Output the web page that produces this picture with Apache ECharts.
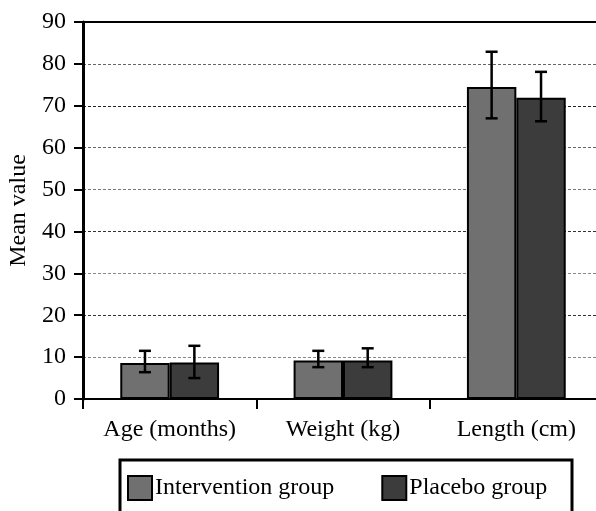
<!DOCTYPE html>
<html>
<head>
<meta charset="utf-8">
<script src="https://cdn.jsdelivr.net/npm/echarts@6/dist/echarts.min.js"></script>
<style>
  html, body { margin: 0; padding: 0; background: #fff; }
  #chart { width: 596px; height: 511px; }
</style>
</head>
<body>
<div id="chart"></div>
<script>
// data
const categories = ['Age (months)', 'Weight (kg)', 'Length (cm)']
const interventionMean = [8.6, 9.2, 74.5]
const placeboMean = [8.7, 9.2, 71.9]
const interventionLow = [6.4, 7.6, 67.0]
const interventionHigh = [11.5, 11.5, 82.9]
const placeboLow = [5.0, 7.6, 66.3]
const placeboHigh = [12.7, 12.1, 78.1]
const yTicks = { min: 0, max: 90, interval: 10 }

const FONT = '"Liberation Serif", "DejaVu Serif", serif'
const FS = 24
const GAP = 0.43 // barCategoryGap as fraction

// error bar drawn at the centre of one bar of the pair (side -1 / +1)
function errorBars(side) {
    return function (params, api) {
        const band = api.size([1, 0])[0]
        const off = side * band * (1 - GAP) / 4
        const top = api.coord([api.value(0), api.value(2)])
        const bot = api.coord([api.value(0), api.value(1)])
        const x = top[0] + off
        const cap = 6
        const style = { stroke: '#000', lineWidth: 2.5 }
        return {
            type: 'group',
            children: [
                { type: 'line', shape: { x1: x, y1: top[1], x2: x, y2: bot[1] }, style },
                { type: 'line', shape: { x1: x - cap, y1: top[1], x2: x + cap, y2: top[1] }, style },
                { type: 'line', shape: { x1: x - cap, y1: bot[1], x2: x + cap, y2: bot[1] }, style },
            ],
        }
    }
}

const chart = echarts.init(document.getElementById('chart'))
chart.setOption({
    animation: false,
    textStyle: { fontFamily: FONT, color: '#000' },
    grid: {
        left: 83, top: 22, bottom: 112, right: -7,
        outerBoundsMode: 'none',
        containLabel: false,
        show: true, borderColor: '#000', borderWidth: 2,
    },
    legend: {
        data: ['Intervention group', 'Placebo group'],
        left: 127, top: 475,
        padding: 0,
        itemWidth: 24, itemHeight: 24, itemGap: 47,
        icon: 'rect',
        textStyle: { fontFamily: FONT, fontSize: FS, color: '#000', padding: [0, 0, 0, -2] },
    },
    graphic: [{
        type: 'rect',
        shape: { x: 120, y: 460, width: 452, height: 70 },
        style: { fill: 'none', stroke: '#000', lineWidth: 3 },
    }],
    xAxis: {
        type: 'category',
        data: categories,
        axisLine: { lineStyle: { color: '#000', width: 2 } },
        axisTick: { show: true, interval: 0, length: 10, lineStyle: { color: '#000', width: 2 } },
        axisLabel: { interval: 0, hideOverlap: false, fontFamily: FONT, fontSize: FS, color: '#000', margin: 19 },
    },
    yAxis: {
        type: 'value',
        min: yTicks.min, max: yTicks.max, interval: yTicks.interval,
        name: 'Mean value',
        nameLocation: 'middle',
        nameGap: 50,
        nameTextStyle: { fontFamily: FONT, fontSize: FS, color: '#000' },
        axisLine: { show: true, lineStyle: { color: '#000', width: 3 } },
        axisTick: { show: true, length: 9, lineStyle: { color: '#000', width: 2 } },
        axisLabel: { fontFamily: FONT, fontSize: FS, color: '#000', margin: 17 },
        splitLine: {
            show: true,
            lineStyle: {
                type: [3, 2],
                width: 1,
                color: ['#000', '#888', '#333', '#888', '#333', '#777', '#666', '#222', '#666', '#000'],
            },
        },
    },
    series: [
        {
            name: 'Intervention group',
            type: 'bar',
            data: interventionMean,
            barGap: '0%',
            barCategoryGap: (GAP * 100) + '%',
            itemStyle: { color: '#707070', borderColor: '#000', borderWidth: 2 },
        },
        {
            name: 'Placebo group',
            type: 'bar',
            data: placeboMean,
            itemStyle: { color: '#3c3c3c', borderColor: '#000', borderWidth: 2 },
        },
        {
            type: 'custom',
            renderItem: errorBars(-1),
            encode: { x: 0, y: [1, 2] },
            data: categories.map((c, i) => [i, interventionLow[i], interventionHigh[i]]),
            z: 10,
        },
        {
            type: 'custom',
            renderItem: errorBars(1),
            encode: { x: 0, y: [1, 2] },
            data: categories.map((c, i) => [i, placeboLow[i], placeboHigh[i]]),
            z: 10,
        },
    ],
})
</script>
</body>
</html>
